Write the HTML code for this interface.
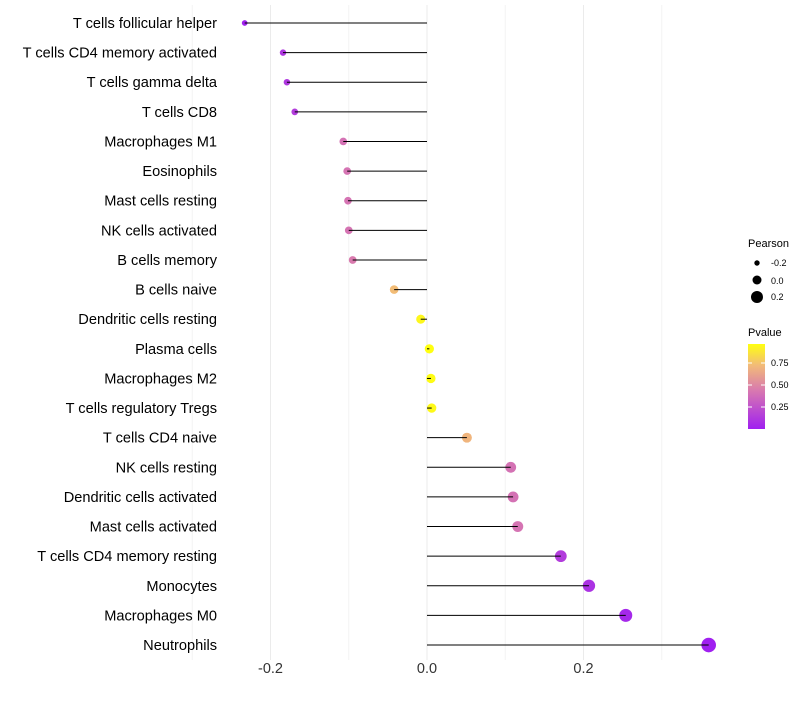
<!DOCTYPE html>
<html><head><meta charset="utf-8"><style>
body{margin:0;background:#fff;font-family:"Liberation Sans",sans-serif;}
</style></head><body>
<svg id="chart" width="800" height="700" xmlns="http://www.w3.org/2000/svg" font-family="Liberation Sans, sans-serif">
<defs><linearGradient id="pg" x1="0" y1="1" x2="0" y2="0">
<stop offset="0" stop-color="#a020f0"/><stop offset="0.45" stop-color="#d878b0"/><stop offset="0.75" stop-color="#f2bb78"/><stop offset="1" stop-color="#ffff10"/></linearGradient></defs>
<g id="grid"></g><g id="points"></g><g id="stems"></g><g id="labels"></g><g id="ticks"></g>
<g>
<text x="748" y="247" font-size="11">Pearson</text>
<circle cx="757" cy="263" r="2.7" fill="#000"/><text x="771" y="266" font-size="9">-0.2</text>
<circle cx="757" cy="280" r="4.5" fill="#000"/><text x="771" y="284" font-size="9">0.0</text>
<circle cx="757" cy="297" r="6" fill="#000"/><text x="771" y="300" font-size="9">0.2</text>
<text x="748" y="336" font-size="11">Pvalue</text>
<rect x="748" y="344" width="17" height="85" fill="url(#pg)"/>
<g stroke="#fff" stroke-width="1"><line x1="748" x2="752" y1="363" y2="363"/><line x1="761" x2="765" y1="363" y2="363"/><line x1="748" x2="752" y1="385" y2="385"/><line x1="761" x2="765" y1="385" y2="385"/><line x1="748" x2="752" y1="407" y2="407"/><line x1="761" x2="765" y1="407" y2="407"/></g>
<text x="771" y="366" font-size="9">0.75</text><text x="771" y="388" font-size="9">0.50</text><text x="771" y="410" font-size="9">0.25</text>
</g>
</svg>
<script>
const categories=["T cells follicular helper","T cells CD4 memory activated","T cells gamma delta","T cells CD8","Macrophages M1","Eosinophils","Mast cells resting","NK cells activated","B cells memory","B cells naive","Dendritic cells resting","Plasma cells","Macrophages M2","T cells regulatory  Tregs ","T cells CD4 naive","NK cells resting","Dendritic cells activated","Mast cells activated","T cells CD4 memory resting","Monocytes","Macrophages M0","Neutrophils"];
const pearson=[-0.233,-0.184,-0.179,-0.169,-0.107,-0.102,-0.101,-0.100,-0.095,-0.042,-0.008,0.003,0.005,0.006,0.051,0.107,0.110,0.116,0.171,0.207,0.254,0.360];
const pvalue=[0.02,0.12,0.13,0.15,0.42,0.43,0.43,0.43,0.46,0.75,0.96,0.99,0.98,0.97,0.72,0.42,0.42,0.43,0.15,0.1,0.05,0.01];
const xTicks=[-0.2,0.0,0.2];
const xTickLabels=["-0.2","0.0","0.2"];
const xMinor=[-0.3,-0.1,0.1,0.3];
const NS="http://www.w3.org/2000/svg";
function xs(v){return 427+v*782.5;}
function ys(i){return 23+i*29.62;}
function rs(v){return Math.max(1.8,4.6+v*7.5);}
function col(p){const st=[[0,[160,32,240]],[0.45,[216,120,176]],[0.75,[242,187,120]],[1,[255,255,16]]];
 let t=(p-0.01)/0.98;t=Math.max(0,Math.min(1,t));
 for(let k=1;k<st.length;k++){if(t<=st[k][0]){const a=st[k-1],b=st[k];const f=(t-a[0])/(b[0]-a[0]);
 return "rgb("+a[1].map((c,j)=>Math.round(c+(b[1][j]-c)*f)).join(",")+")";}}return "rgb(255,255,16)";}
function mk(tag,at,parent){const e=document.createElementNS(NS,tag);for(const k in at)e.setAttribute(k,at[k]);document.getElementById(parent).appendChild(e);return e;}
xMinor.forEach(v=>{const l=mk("line",{x1:xs(v),x2:xs(v),y1:5,y2:660,stroke:"#f4f4f4","stroke-width":1},"grid");

});
xTicks.forEach((v,i)=>{const l=mk("line",{x1:xs(v),x2:xs(v),y1:5,y2:660,stroke:"#ebebeb","stroke-width":1},"grid");


const t=mk("text",{x:xs(v),y:673,"font-size":14.5,"text-anchor":"middle",fill:"#333"},"ticks");t.textContent=xTickLabels[i];

});
categories.forEach((c,i)=>{const y=ys(i);
const d=mk("circle",{cx:xs(pearson[i]),cy:y,r:rs(pearson[i]),fill:col(pvalue[i])},"points");


const l=mk("line",{x1:xs(0),x2:xs(pearson[i]),y1:y,y2:y,stroke:"#000","stroke-width":1},"stems");


const t=mk("text",{x:217,y:y+5,"font-size":14.6,"text-anchor":"end",fill:"#000"},"labels");t.textContent=c;

});
</script>
</body></html>
